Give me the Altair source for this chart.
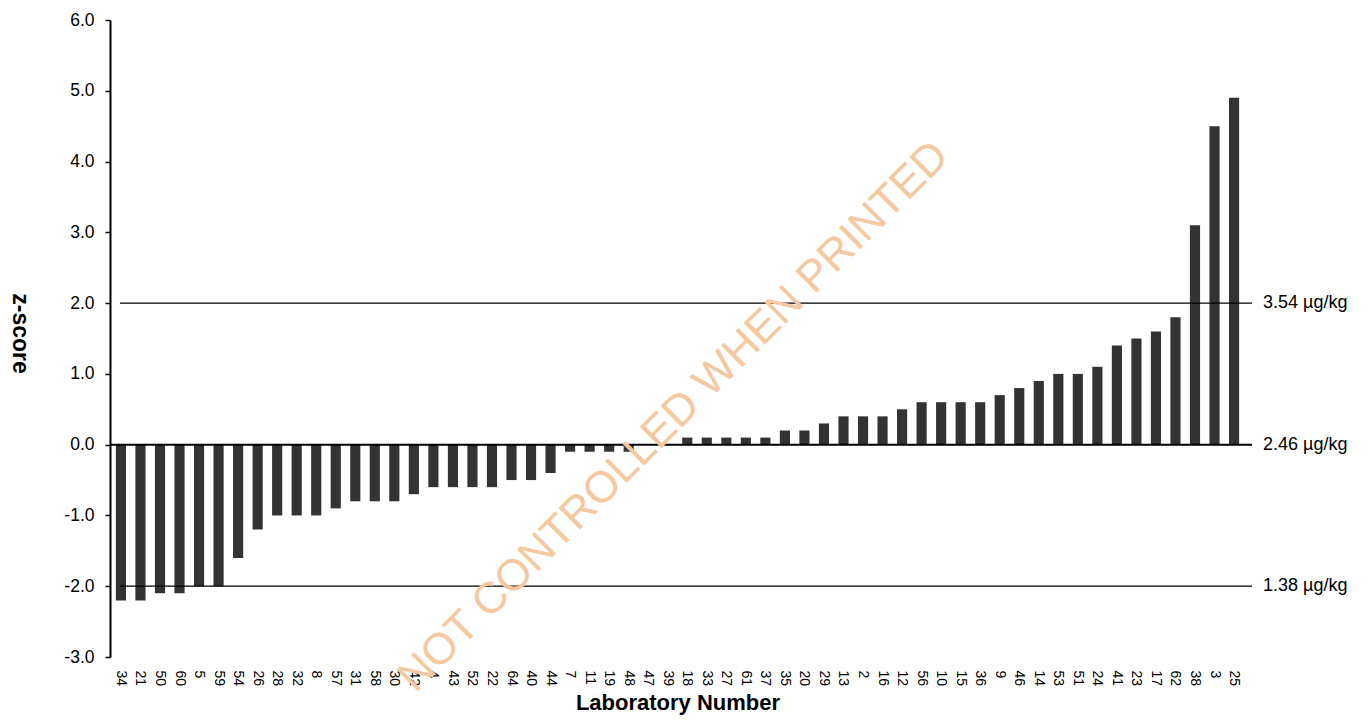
import altair as alt
import pandas as pd

labs = ["34", "21", "50", "60", "5", "59", "54", "26", "28", "32", "8", "57", "31", "58", "30",
        "42", "4", "43", "52", "22", "64", "40", "44", "7", "11", "19", "48", "47", "39", "18",
        "33", "27", "61", "37", "35", "20", "29", "13", "2", "16", "12", "56", "10", "15", "36",
        "9", "46", "14", "53", "51", "24", "41", "23", "17", "62", "38", "3", "25"]
zscores = [-2.2, -2.2, -2.1, -2.1, -2.0, -2.0, -1.6, -1.2, -1.0, -1.0, -1.0, -0.9, -0.8, -0.8, -0.8,
           -0.7, -0.6, -0.6, -0.6, -0.6, -0.5, -0.5, -0.4, -0.1, -0.1, -0.1, -0.1, 0.0, 0.0, 0.1,
           0.1, 0.1, 0.1, 0.1, 0.2, 0.2, 0.3, 0.4, 0.4, 0.4, 0.5, 0.6, 0.6, 0.6, 0.6,
           0.7, 0.8, 0.9, 1.0, 1.0, 1.1, 1.4, 1.5, 1.6, 1.8, 3.1, 4.5, 4.9]

ref_z = [2.0, 0.0, -2.0]
ref_labels = ["3.54 µg/kg", "2.46 µg/kg", "1.38 µg/kg"]
y_ticks = [-3, -2, -1, 0, 1, 2, 3, 4, 5, 6]
watermark = ["NOT CONTROLLED WHEN PRINTED"]

W, H = 1135, 637
FONT = "Liberation Sans"

df = pd.DataFrame({"lab": labs, "z": zscores})
refs = pd.DataFrame({"z": ref_z, "label": ref_labels})
side = refs[refs["z"] != 0]
zero = refs[refs["z"] == 0]
wm = pd.DataFrame({"t": watermark})

yscale = alt.Scale(domain=[-3, 6], nice=False)
yaxis = alt.Axis(values=y_ticks,
                 labelExpr="(datum.value < 0 ? '-' : '') + format(abs(datum.value), '.1f')",
                 labelFontSize=17.5, labelColor="black", labelPadding=11,
                 tickSize=5, tickColor="black", tickWidth=1.5,
                 domainColor="black", domainWidth=2, grid=False,
                 title="z-score", titleAngle=90, titleFontSize=23,
                 titleFontWeight="bold", titleColor="black",
                 titleAlign="center", titleBaseline="middle",
                 titleX=-91, titleY=313)

bars = alt.Chart(df).mark_bar(color="#333333").encode(
    x=alt.X("lab:N", sort=None,
            scale=alt.Scale(paddingInner=0.48, paddingOuter=0.3),
            axis=alt.Axis(title="Laboratory Number", labelAngle=90, domain=False, ticks=False,
                          grid=False,
                          labelFontSize=14, labelPadding=13, labelColor="black",
                          titleFontSize=22, titleFontWeight="bold", titleColor="black",
                          titleBaseline="alphabetic", titleY=52)),
    y=alt.Y("z:Q", scale=yscale, axis=yaxis),
)

side_rules = alt.Chart(side).mark_rule(color="black", strokeWidth=1.2).encode(
    y=alt.Y("z:Q", scale=yscale, axis=yaxis), x=alt.value(10), x2=alt.value(W + 7))
zero_rule = alt.Chart(zero).mark_rule(color="black", strokeWidth=2).encode(
    y=alt.Y("z:Q", scale=yscale, axis=yaxis), x=alt.value(0), x2=alt.value(W + 7))
ref_text = alt.Chart(refs).mark_text(align="left", baseline="middle", fontSize=18,
                                     font=FONT, color="black").encode(
    y=alt.Y("z:Q", scale=yscale, axis=yaxis), x=alt.value(W + 18), text="label:N")
wm_text = alt.Chart(wm).mark_text(angle=315, fontSize=44, font=FONT, color="#f6c8a2",
                                  align="center", baseline="middle").encode(
    x=alt.value(564), y=alt.value(397), text="t:N")

chart = alt.layer(bars, side_rules, zero_rule, ref_text, wm_text).properties(
    width=W, height=H,
    autosize=alt.AutoSizeParams(type="none"),
    padding={"left": 102, "top": 12, "right": 116, "bottom": 59},
).configure(font=FONT).configure_view(strokeWidth=0, stroke="transparent")

chart.save("out.html", embed_options={"renderer": "svg", "actions": False})
